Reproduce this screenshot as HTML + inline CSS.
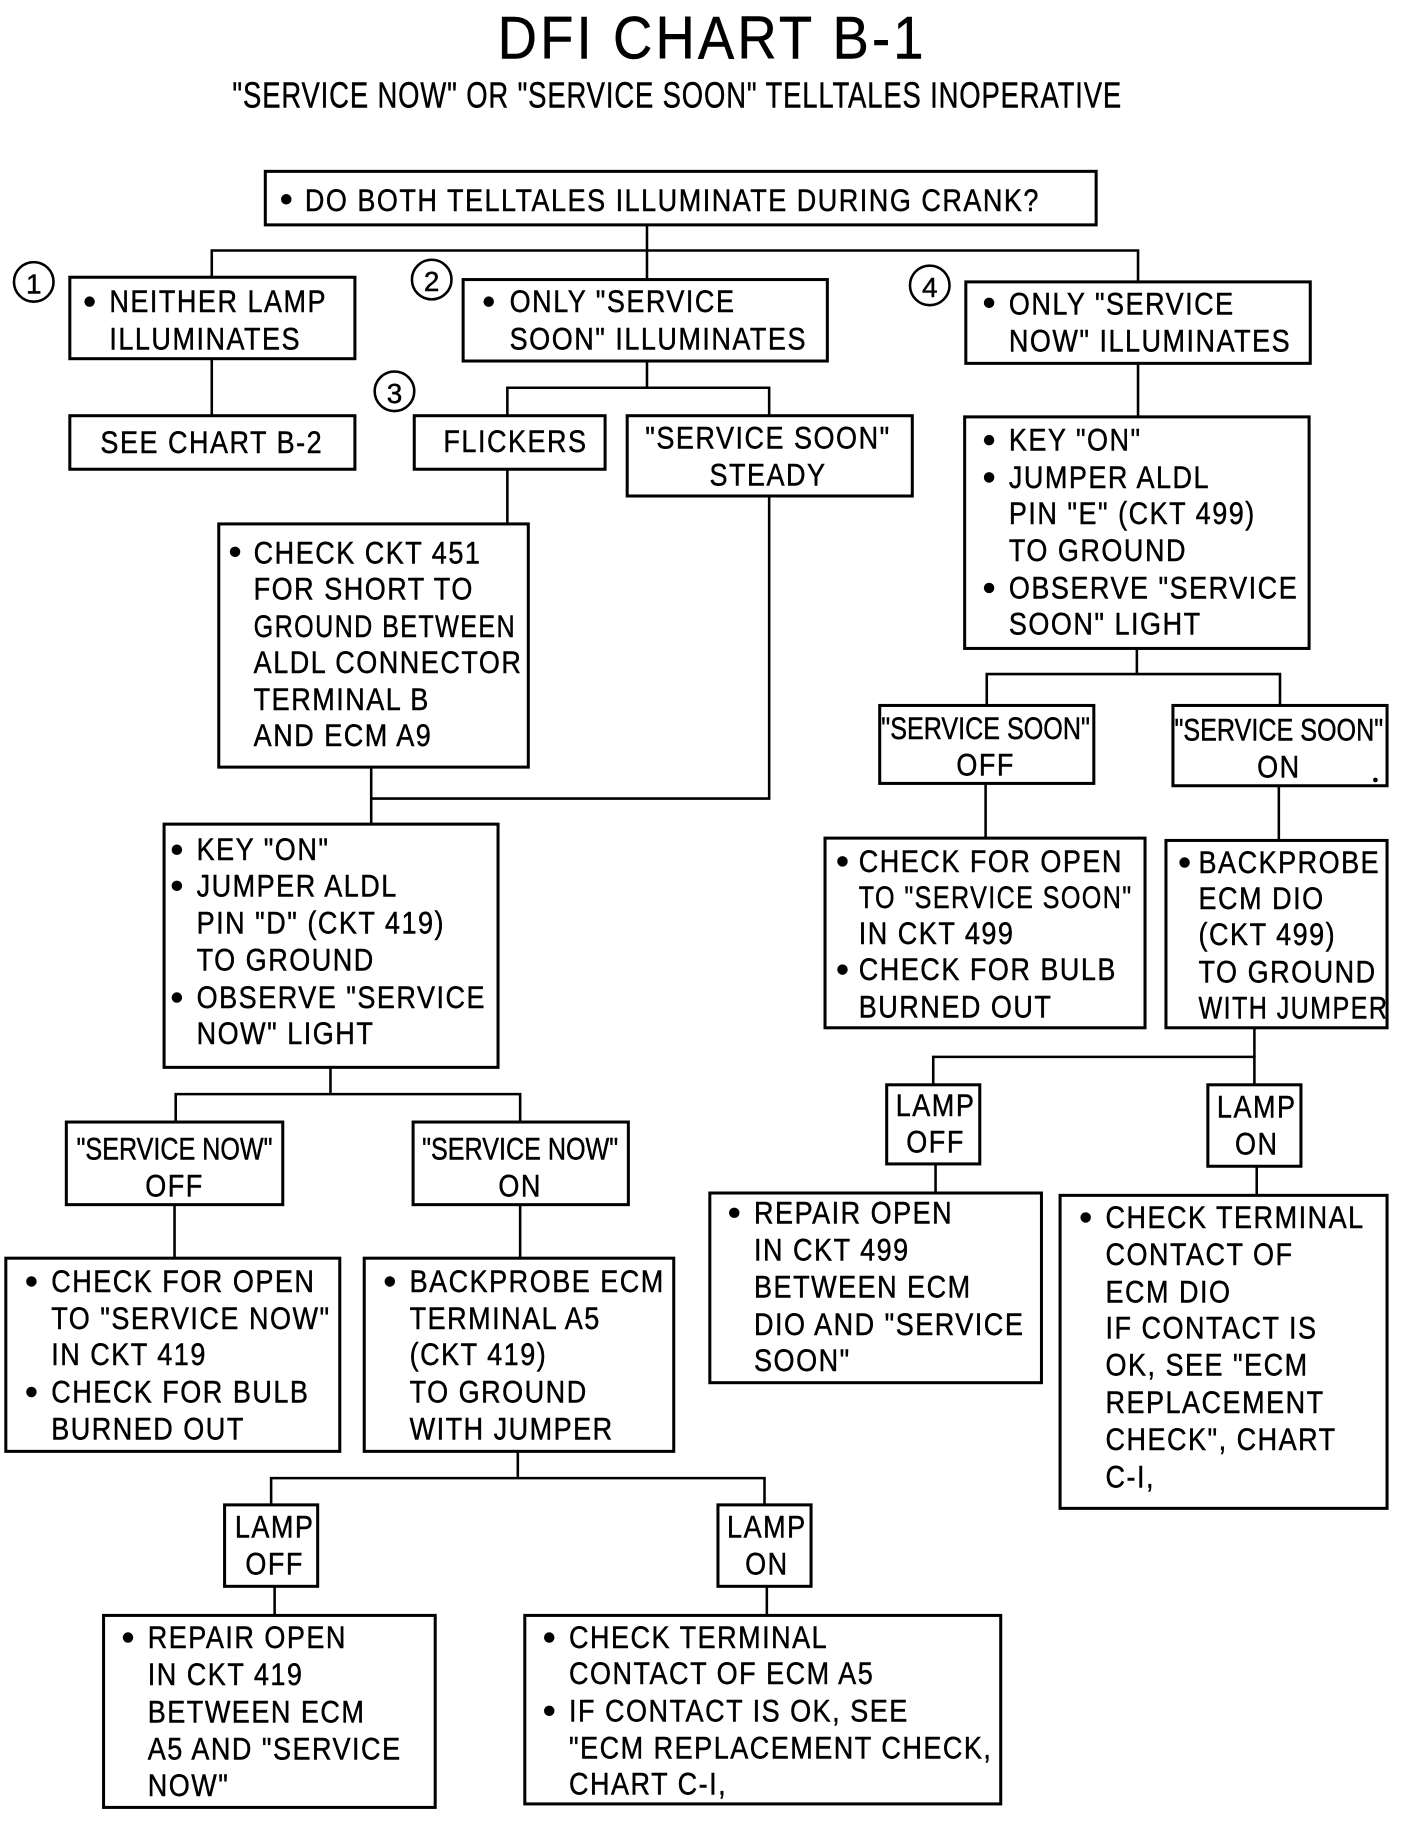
<!DOCTYPE html>
<html><head><meta charset="utf-8"><style>
html,body{margin:0;padding:0;background:#fff;}
svg{display:block;}
text{font-family:"Liberation Sans Narrow","Liberation Sans",sans-serif;font-size:27px;fill:#000;letter-spacing:1.5px;stroke:#000;stroke-width:0.4;transform-box:fill-box;transform-origin:0% 50%;transform:scaleX(0.86);}
.c{text-anchor:middle;transform-origin:50% 50%;}
.q{transform:scaleX(0.8);}
.k{transform:scaleX(0.8);}
.t{transform:scaleX(0.9);}
.s{transform:scaleX(0.76);}
.n1{transform:none;}
rect{fill:none;stroke:#000;stroke-width:2.6;}
line,polyline{stroke:#000;stroke-width:2.2;fill:none;}
circle.n{fill:none;stroke:#000;stroke-width:2.2;}
circle.b{fill:#000;stroke:none;}
</style></head><body>
<svg width="1408" height="1824" viewBox="0 0 1210 1567" xmlns="http://www.w3.org/2000/svg">
<text x="612" y="50" class="c t" style="font-size:52px;letter-spacing:3px">DFI CHART B-1</text>
<text x="582" y="92" class="c s" style="font-size:31px;letter-spacing:1px">"SERVICE NOW" OR "SERVICE SOON" TELLTALES INOPERATIVE</text>

<rect x="228" y="147" width="714" height="46"/>
<circle class="b" cx="246" cy="171" r="4.5"/>
<text x="262" y="181">DO BOTH TELLTALES ILLUMINATE DURING CRANK?</text>
<line x1="556" y1="193" x2="556" y2="240"/>
<polyline points="182,238 182,215 978,215 978,242"/>

<circle class="n" cx="29" cy="242" r="17"/><text x="29" y="252" class="c n1" style="font-size:24px;letter-spacing:0">1</text>
<rect x="60" y="238" width="245" height="70"/>
<circle class="b" cx="77" cy="259" r="4.5"/>
<text x="94" y="268">NEITHER LAMP</text><text x="94" y="300">ILLUMINATES</text>

<circle class="n" cx="371" cy="240" r="17"/><text x="371" y="250" class="c n1" style="font-size:24px;letter-spacing:0">2</text>
<rect x="398" y="240" width="313" height="70"/>
<circle class="b" cx="420" cy="259" r="4.5"/>
<text x="438" y="268">ONLY "SERVICE</text><text x="438" y="300">SOON" ILLUMINATES</text>

<circle class="n" cx="799" cy="245" r="17"/><text x="799" y="255" class="c n1" style="font-size:24px;letter-spacing:0">4</text>
<rect x="830" y="242" width="296" height="70"/>
<circle class="b" cx="850" cy="260" r="4.5"/>
<text x="867" y="270">ONLY "SERVICE</text><text x="867" y="302">NOW" ILLUMINATES</text>

<line x1="182" y1="308" x2="182" y2="357"/>
<rect x="60" y="357" width="245" height="46"/>
<text x="182" y="389" class="c">SEE CHART B-2</text>

<line x1="556" y1="310" x2="556" y2="333"/>
<polyline points="436,357 436,333 661,333 661,357"/>
<circle class="n" cx="339" cy="336" r="17"/><text x="339" y="346" class="c n1" style="font-size:24px;letter-spacing:0">3</text>
<rect x="356" y="357" width="164" height="46"/>
<text x="443" y="388" class="c">FLICKERS</text>
<rect x="539" y="357" width="245" height="69"/>
<text x="660" y="385" class="c">"SERVICE SOON"</text><text x="660" y="417" class="c">STEADY</text>

<line x1="436" y1="403" x2="436" y2="450"/>
<rect x="188" y="450" width="266" height="209"/>
<circle class="b" cx="202" cy="474" r="4.5"/>
<text x="218" y="484">CHECK CKT 451</text>
<text x="218" y="515">FOR SHORT TO</text>
<text x="218" y="547" class="k">GROUND BETWEEN</text>
<text x="218" y="578">ALDL CONNECTOR</text>
<text x="218" y="610">TERMINAL B</text>
<text x="218" y="641">AND ECM A9</text>

<polyline points="661,426 661,686 319,686"/>
<line x1="319" y1="659" x2="319" y2="708"/>
<rect x="141" y="708" width="287" height="209"/>
<circle class="b" cx="152" cy="730" r="4.5"/><text x="169" y="739">KEY "ON"</text>
<circle class="b" cx="152" cy="761" r="4.5"/><text x="169" y="770">JUMPER ALDL</text>
<text x="169" y="802">PIN "D" (CKT 419)</text>
<text x="169" y="834">TO GROUND</text>
<circle class="b" cx="152" cy="857" r="4.5"/><text x="169" y="866">OBSERVE "SERVICE</text>
<text x="169" y="897">NOW" LIGHT</text>

<line x1="284" y1="917" x2="284" y2="940"/>
<polyline points="151,964 151,940 447,940 447,964"/>
<rect x="57" y="964" width="186" height="71"/>
<text x="150" y="996" class="c q" style="letter-spacing:0">"SERVICE NOW"</text><text x="150" y="1028" class="c">OFF</text>
<rect x="355" y="964" width="185" height="71"/>
<text x="447" y="996" class="c q" style="letter-spacing:0">"SERVICE NOW"</text><text x="447" y="1028" class="c">ON</text>

<line x1="150" y1="1035" x2="150" y2="1081"/>
<rect x="5" y="1081" width="287" height="166"/>
<circle class="b" cx="27" cy="1101" r="4.5"/><text x="44" y="1110">CHECK FOR OPEN</text>
<text x="44" y="1142">TO "SERVICE NOW"</text>
<text x="44" y="1173">IN CKT 419</text>
<circle class="b" cx="27" cy="1196" r="4.5"/><text x="44" y="1205">CHECK FOR BULB</text>
<text x="44" y="1237">BURNED OUT</text>

<line x1="447" y1="1035" x2="447" y2="1081"/>
<rect x="313" y="1081" width="266" height="166"/>
<circle class="b" cx="335" cy="1101" r="4.5"/><text x="352" y="1110">BACKPROBE ECM</text>
<text x="352" y="1142">TERMINAL A5</text>
<text x="352" y="1173">(CKT 419)</text>
<text x="352" y="1205">TO GROUND</text>
<text x="352" y="1237">WITH JUMPER</text>

<line x1="445" y1="1247" x2="445" y2="1270"/>
<polyline points="233,1293 233,1270 657,1270 657,1293"/>
<rect x="193" y="1293" width="80" height="70"/>
<text x="236" y="1321" class="c">LAMP</text><text x="236" y="1353" class="c">OFF</text>
<rect x="617" y="1293" width="80" height="70"/>
<text x="659" y="1321" class="c">LAMP</text><text x="659" y="1353" class="c">ON</text>

<line x1="236" y1="1363" x2="236" y2="1388"/>
<rect x="89" y="1388" width="285" height="165"/>
<circle class="b" cx="110" cy="1407" r="4.5"/><text x="127" y="1416">REPAIR OPEN</text>
<text x="127" y="1448">IN CKT 419</text>
<text x="127" y="1480">BETWEEN ECM</text>
<text x="127" y="1512">A5 AND "SERVICE</text>
<text x="127" y="1543">NOW"</text>

<line x1="659" y1="1363" x2="659" y2="1388"/>
<rect x="451" y="1388" width="409" height="162"/>
<circle class="b" cx="472" cy="1407" r="4.5"/><text x="489" y="1416">CHECK TERMINAL</text>
<text x="489" y="1447">CONTACT OF ECM A5</text>
<circle class="b" cx="472" cy="1470" r="4.5"/><text x="489" y="1479">IF CONTACT IS OK, SEE</text>
<text x="489" y="1511">"ECM REPLACEMENT CHECK,</text>
<text x="489" y="1542">CHART C-I,</text>

<line x1="978" y1="312" x2="978" y2="358"/>
<rect x="829" y="358" width="296" height="199"/>
<circle class="b" cx="850" cy="378" r="4.5"/><text x="867" y="387">KEY "ON"</text>
<circle class="b" cx="850" cy="410" r="4.5"/><text x="867" y="419">JUMPER ALDL</text>
<text x="867" y="450">PIN "E" (CKT 499)</text>
<text x="867" y="482">TO GROUND</text>
<circle class="b" cx="850" cy="505" r="4.5"/><text x="867" y="514">OBSERVE "SERVICE</text>
<text x="867" y="545">SOON" LIGHT</text>

<line x1="977" y1="557" x2="977" y2="579"/>
<polyline points="848,606 848,579 1100,579 1100,606"/>
<rect x="756" y="606" width="184" height="67"/>
<text x="847" y="635" class="c q" style="letter-spacing:0">"SERVICE SOON"</text><text x="847" y="666" class="c">OFF</text>
<rect x="1008" y="606" width="184" height="69"/>
<text x="1099" y="636" class="c q" style="letter-spacing:0">"SERVICE SOON"</text><text x="1099" y="668" class="c">ON</text>
<circle class="b" cx="1182" cy="670" r="2"/>

<line x1="847" y1="673" x2="847" y2="720"/>
<rect x="709" y="720" width="275" height="163"/>
<circle class="b" cx="724" cy="740" r="4.5"/><text x="738" y="749">CHECK FOR OPEN</text>
<text x="738" y="780" class="k">TO "SERVICE SOON"</text>
<text x="738" y="811">IN CKT 499</text>
<circle class="b" cx="724" cy="833" r="4.5"/><text x="738" y="842">CHECK FOR BULB</text>
<text x="738" y="874">BURNED OUT</text>

<line x1="1099" y1="675" x2="1099" y2="722"/>
<rect x="1002" y="722" width="190" height="161"/>
<circle class="b" cx="1018" cy="741" r="4.5"/><text x="1030" y="750">BACKPROBE</text>
<text x="1030" y="781">ECM DIO</text>
<text x="1030" y="812">(CKT 499)</text>
<text x="1030" y="844">TO GROUND</text>
<text x="1030" y="875" class="k">WITH JUMPER</text>

<line x1="1078" y1="883" x2="1078" y2="908"/>
<polyline points="802,932 802,908 1078,908 1078,932"/>
<rect x="762" y="932" width="80" height="68"/>
<text x="804" y="959" class="c">LAMP</text><text x="804" y="990" class="c">OFF</text>
<rect x="1038" y="932" width="80" height="70"/>
<text x="1080" y="960" class="c">LAMP</text><text x="1080" y="992" class="c">ON</text>

<line x1="804" y1="1000" x2="804" y2="1025"/>
<rect x="610" y="1025" width="285" height="163"/>
<circle class="b" cx="631" cy="1042" r="4.5"/><text x="648" y="1051">REPAIR OPEN</text>
<text x="648" y="1083">IN CKT 499</text>
<text x="648" y="1115">BETWEEN ECM</text>
<text x="648" y="1147">DIO AND "SERVICE</text>
<text x="648" y="1178">SOON"</text>

<line x1="1080" y1="1002" x2="1080" y2="1027"/>
<rect x="911" y="1027" width="281" height="269"/>
<circle class="b" cx="933" cy="1046" r="4.5"/><text x="950" y="1055">CHECK TERMINAL</text>
<text x="950" y="1087">CONTACT OF</text>
<text x="950" y="1119">ECM DIO</text>
<text x="950" y="1150">IF CONTACT IS</text>
<text x="950" y="1182">OK, SEE "ECM</text>
<text x="950" y="1214">REPLACEMENT</text>
<text x="950" y="1246">CHECK", CHART</text>
<text x="950" y="1278">C-I,</text>
</svg>
</body></html>
